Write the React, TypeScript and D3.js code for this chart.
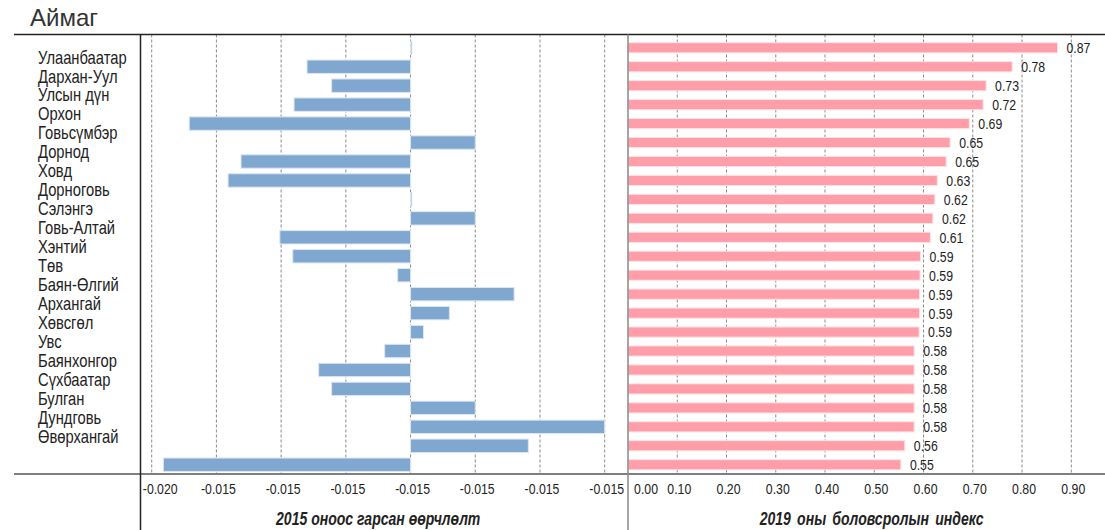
import React from 'react';
import * as d3 from 'd3';

const categories = [
  'Улаанбаатар', 'Дархан-Уул', 'Улсын дүн', 'Орхон', 'Говьсүмбэр', 'Дорнод', 'Ховд',
  'Дорноговь', 'Сэлэнгэ', 'Говь-Алтай', 'Хэнтий', 'Төв', 'Баян-Өлгий', 'Архангай',
  'Хөвсгөл', 'Увс', 'Баянхонгор', 'Сүхбаатар', 'Булган', 'Дундговь', 'Өвөрхангай',
];

// 2015 оноос гарсан өөрчлөлт (23 bars)
const changeValues = [
  0.0001, -0.0080, -0.0061, -0.0090, -0.0171, 0.0050, -0.0131, -0.0141, 0.0001, 0.0050,
  -0.0101, -0.0091, -0.0010, 0.0080, 0.0030, 0.0010, -0.0020, -0.0071, -0.0061, 0.0050,
  0.0150, 0.0091, -0.0191,
];

// 2019 оны боловсролын индекс (23 bars)
const indexValues = [
  0.872, 0.780, 0.727, 0.721, 0.693, 0.654, 0.646, 0.628, 0.623, 0.619, 0.614, 0.594,
  0.593, 0.592, 0.592, 0.591, 0.581, 0.581, 0.581, 0.581, 0.581, 0.562, 0.554,
];

const changeTicks = [-0.02, -0.015, -0.01, -0.005, 0, 0.005, 0.01, 0.015];
const changeTickLabels = ['-0.020', '-0.015', '-0.015', '-0.015', '-0.015', '-0.015', '-0.015', '-0.015'];
const indexTicks = [0, 0.1, 0.2, 0.3, 0.4, 0.5, 0.6, 0.7, 0.8, 0.9];
const indexTickLabels = ['0.00', '0.10', '0.20', '0.30', '0.40', '0.50', '0.60', '0.70', '0.80', '0.90'];

const titleText = 'Аймаг';
const leftAxisTitle = '2015 оноос гарсан өөрчлөлт';
const rightAxisTitle = '2019 оны боловсролын индекс';

const W = 1105;
const H = 530;
const SANS = "'Liberation Sans', Arial, sans-serif";

type NProps = {
  x: number; y: number; size: number; dy?: string; anchor?: 'start' | 'middle' | 'end';
  bold?: boolean; italic?: boolean; ws?: number; sq?: number; children: React.ReactNode;
};

function NText({ x, y, size, dy, anchor = 'start', bold, italic, ws, sq = 0.82, children }: NProps) {
  return (
    <text transform={`translate(${x},${y}) scale(${sq},1)`} dy={dy} textAnchor={anchor}
      fontFamily={SANS} fontSize={size} fontWeight={bold ? 'bold' : 'normal'}
      fontStyle={italic ? 'italic' : 'normal'} wordSpacing={ws} fill="#222">{children}</text>
  );
}

export default function App() {
  const xL = d3.scaleLinear().domain([-0.02, 0.015]).range([151.7, 604.7]);
  const xR = d3.scaleLinear().domain([0, 0.9]).range([628, 1071.3]);
  const y = d3.scaleBand<number>().domain(d3.range(changeValues.length)).range([38.3, 474.2]);
  const bw = y.bandwidth();
  const fmt = d3.format('.2f');
  const top = 34.5;
  const bottom = 474;

  return (
    <svg width={W} height={H} style={{ position: 'absolute', left: 0, top: 0, background: '#fff' }}>
      <text x={30} y={26} fontFamily={SANS} fontSize={24} fill="#333">{titleText}</text>

      {/* grids */}
      {changeTicks.map((t, i) => (
        <line key={'gl' + i} x1={xL(t)} x2={xL(t)} y1={top} y2={bottom} stroke="#8a8a8a" strokeWidth={1} strokeDasharray="3,2" />
      ))}
      {indexTicks.slice(1).map((t, i) => (
        <line key={'gr' + i} x1={xR(t)} x2={xR(t)} y1={top} y2={bottom} stroke="#8a8a8a" strokeWidth={1} strokeDasharray="3,2" />
      ))}

      {/* left bars */}
      {changeValues.map((v, i) => {
        const x0 = xL(Math.min(0, v));
        const x1 = xL(Math.max(0, v));
        const cy = (y(i) as number) + bw / 2;
        return (
          <rect key={'lb' + i} x={x0} y={cy - 6.7} width={Math.max(0.6, x1 - x0)} height={13.4}
            fill="#7fa7cf" stroke="#dde7f2" strokeWidth={1} />
        );
      })}

      {/* right bars */}
      {indexValues.map((v, i) => {
        const cy = (y(i) as number) + bw / 2;
        return (
          <rect key={'rb' + i} x={xR(0)} y={cy - 5.1} width={xR(v) - xR(0)} height={10.2}
            fill="#ff9ea8" stroke="#ffe3e6" strokeWidth={1} />
        );
      })}
      {indexValues.map((v, i) => {
        const cy = (y(i) as number) + bw / 2;
        return (
          <NText key={'rv' + i} x={xR(v) + 9} y={cy} dy="0.36em" size={15}>{fmt(v)}</NText>
        );
      })}

      {/* frame lines */}
      <line x1={14} x2={W} y1={top} y2={top} stroke="#222" strokeWidth={1.5} />
      <line x1={14} x2={W} y1={bottom} y2={bottom} stroke="#555" strokeWidth={1.5} />
      <line x1={140.5} x2={140.5} y1={top} y2={H} stroke="#222" strokeWidth={1.5} />
      <line x1={xR(0)} x2={xR(0)} y1={top} y2={H} stroke="#888" strokeWidth={1.5} />

      {/* category labels */}
      {categories.map((c, i) => (
        <NText key={'c' + i} x={38} y={(y(i) as number) + bw} dy="0.35em" size={18}>{c}</NText>
      ))}

      {/* tick labels */}
      {changeTicks.map((t, i) => (
        <NText key={'tl' + i} x={xL(t) + (i === 0 ? 8.5 : 2)} y={494} anchor="middle" size={15}>{changeTickLabels[i]}</NText>
      ))}
      {indexTicks.map((t, i) => (
        <NText key={'tr' + i} x={xR(t) + (i === 0 ? 18 : 2)} y={494} anchor="middle" size={15}>{indexTickLabels[i]}</NText>
      ))}

      {/* axis titles */}
      <NText x={(xL(-0.02) + xL(0.015)) / 2} y={525} anchor="middle" size={18} bold italic ws={0} sq={0.78}>{leftAxisTitle}</NText>
      <NText x={(xR(0) + xR(0.9)) / 2 + 22} y={525} anchor="middle" size={18} bold italic ws={3} sq={0.78}>{rightAxisTitle}</NText>
    </svg>
  );
}
